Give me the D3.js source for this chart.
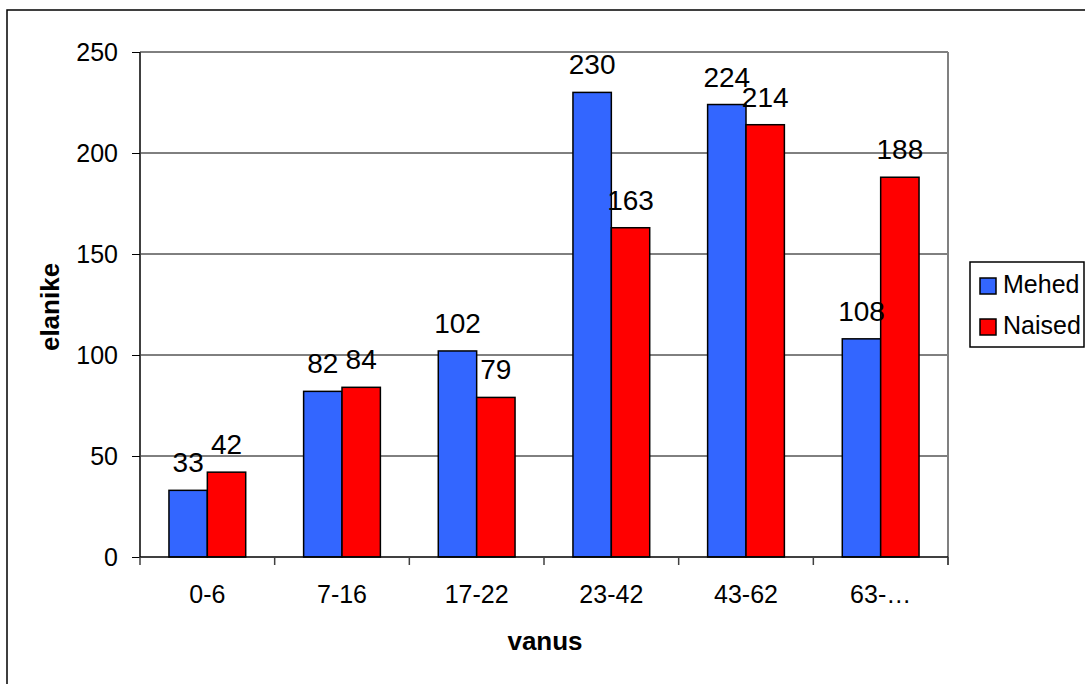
<!DOCTYPE html>
<html><head><meta charset="utf-8">
<script src="https://cdn.jsdelivr.net/npm/d3@7"></script>
<style>body{margin:0;background:#fff;} svg{display:block;font-family:"Liberation Sans",Arial,sans-serif;}</style>
</head><body>
<svg id="c" width="1085" height="684"></svg>
<script>
const categories = ["0-6","7-16","17-22","23-42","43-62","63-…"];
const mehed = [33,82,102,230,224,108];
const naised = [42,84,79,163,214,188];
const seriesNames = ["Mehed","Naised"];
const seriesColors = ["#3366FF","#FF0000"];
const yTicks = [0,50,100,150,200,250];

const svg = d3.select("#c");
const L=140,R=948,T=52,B=557;
const FF = "Liberation Sans, Arial, sans-serif";
// outer border
svg.append("rect").attr("x",7).attr("y",10).attr("width",1200).attr("height",800)
  .attr("fill","none").attr("stroke","#000").attr("stroke-width",1.5);

const x = d3.scaleBand().domain(categories).range([L,R]).paddingInner(0).paddingOuter(0);
const y = d3.scaleLinear().domain([0,250]).range([B,T]);
const groupW = x.bandwidth()*0.57;
const xs = d3.scaleBand().domain(seriesNames).range([0,groupW]);

// gridlines
svg.append("g").selectAll("line").data(yTicks.filter(d=>d>0)).join("line")
  .attr("x1",L).attr("x2",R).attr("y1",d=>y(d)).attr("y2",d=>y(d))
  .attr("stroke","#000").attr("stroke-width",1);

// right border
svg.append("line").attr("x1",R).attr("x2",R).attr("y1",T).attr("y2",B+8)
  .attr("stroke","#808080").attr("stroke-width",2);

const data = categories.map((c,i)=>({c, vals:[mehed[i],naised[i]]}));
const g = svg.append("g").selectAll("g").data(data).join("g")
  .attr("transform",d=>`translate(${x(d.c)+(x.bandwidth()-groupW)/2},0)`);
g.selectAll("rect").data(d=>d.vals.map((v,j)=>({v,s:seriesNames[j],j}))).join("rect")
  .attr("x",d=>xs(d.s)).attr("width",xs.bandwidth())
  .attr("y",d=>y(d.v)).attr("height",d=>B-y(d.v))
  .attr("fill",d=>seriesColors[d.j]).attr("stroke","#000").attr("stroke-width",1.5);
g.selectAll("text").data(d=>d.vals.map((v,j)=>({v,s:seriesNames[j]}))).join("text")
  .attr("x",d=>xs(d.s)+xs.bandwidth()/2).attr("y",d=>y(d.v)-18)
  .attr("text-anchor","middle").attr("font-size",28).attr("fill","#000").text(d=>d.v);

// y axis
const ya = svg.append("g").attr("transform",`translate(${L},0)`)
  .call(d3.axisLeft(y).tickValues(yTicks).tickSize(8).tickPadding(14));
ya.select(".domain").attr("stroke","#404040").attr("stroke-width",2).attr("d",`M0,${T}V${B}`);
ya.selectAll(".tick line").attr("stroke","#000").attr("stroke-width",1);
ya.selectAll(".tick text").attr("font-size",25).attr("font-family",FF).attr("fill","#000");

// x axis
const xa = svg.append("g").attr("transform",`translate(0,${B})`)
  .call(d3.axisBottom(x).tickSize(0));
xa.select(".domain").attr("stroke","#000").attr("stroke-width",1.5).attr("d",`M${L},0H${R}`);
xa.selectAll(".tick text").attr("font-size",25).attr("font-family",FF).attr("fill","#000")
  .attr("y",46).attr("dy",0);
svg.append("g").selectAll("line").data(categories.concat(["end"])).join("line")
  .attr("x1",(d,i)=>L+i*x.bandwidth()).attr("x2",(d,i)=>L+i*x.bandwidth())
  .attr("y1",B).attr("y2",B+8).attr("stroke","#404040").attr("stroke-width",1.5);

// axis titles
svg.append("text").attr("x",545).attr("y",650).attr("text-anchor","middle")
  .attr("font-size",26).attr("font-weight","bold").text("vanus");
svg.append("text").attr("transform","translate(59,307) rotate(-90)").attr("text-anchor","middle")
  .attr("font-size",26).attr("font-weight","bold").text("elanike");

// legend
const lg = svg.append("g");
lg.append("rect").attr("x",970).attr("y",262).attr("width",114).attr("height",85)
  .attr("fill","#fff").attr("stroke","#000").attr("stroke-width",1.5);
seriesNames.forEach((s,i)=>{
  lg.append("rect").attr("x",980).attr("y",278+i*41).attr("width",16).attr("height",16)
    .attr("fill",seriesColors[i]).attr("stroke","#000").attr("stroke-width",1.5);
  lg.append("text").attr("x",1003).attr("y",293+i*41).attr("font-size",25).text(s);
});
</script>
</body></html>
